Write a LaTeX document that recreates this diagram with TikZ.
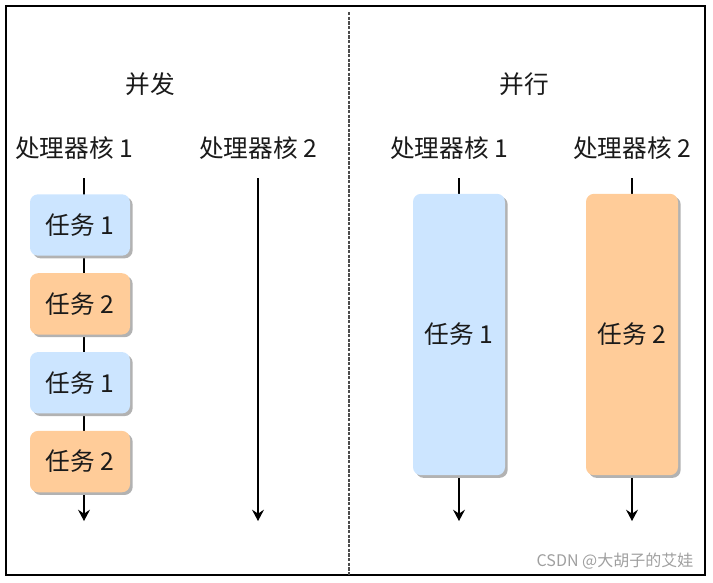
\documentclass[tikz,border=0pt]{standalone}
\usepackage{fontspec}
\setmainfont{Noto Sans CJK SC}
\usetikzlibrary{arrows.meta,positioning,shadows}
\definecolor{taskblue}{HTML}{CCE5FF}
\definecolor{taskorange}{HTML}{FFCC99}
\definecolor{inkgray}{HTML}{1A1A1A}

\begin{document}
\begin{tikzpicture}[x=0.75pt,y=-0.75pt,node distance=12.75pt,
    font=\fontsize{18.5}{21}\selectfont, text=inkgray,
    task/.style={rounded corners=6pt,inner sep=0pt,
      drop shadow={shadow xshift=2pt,shadow yshift=-2pt,fill=black!30,opacity=1}},
    shorttask/.style={task,minimum width=75pt,minimum height=46pt},
    longtask/.style={task,minimum width=69pt,minimum height=211pt},
    timeline/.style={-{Stealth[length=8.5pt,width=9pt,inset=3pt]},line width=0.8pt}]
  \useasboundingbox (0,0) rectangle (713,582);
  \draw[line width=1pt] (6,6) rectangle (705,575);
  \draw[gray!60!black,dash pattern=on 2.5pt off 1pt,line width=0.8pt] (349,12) -- (349,575);

  % titles
  \node (concur) at (150,84) {并发};
  \node (parallel) at (524,84) {并行};
  \node (lcore1) at (74,148) {处理器核 1};
  \node (lcore2) at (258,148) {处理器核 2};
  \node (rcore1) at (449,148) {处理器核 1};
  \node (rcore2) at (632,148) {处理器核 2};

  % time lines
  \coordinate (l1top) at (84,178);  \coordinate (l1bot) at (84,521);
  \coordinate (l2top) at (258,178); \coordinate (l2bot) at (258,521);
  \coordinate (r1top) at (459,178); \coordinate (r1bot) at (459,521);
  \coordinate (r2top) at (632,178); \coordinate (r2bot) at (632,521);
  \draw[timeline] (l1top) -- (l1bot);
  \draw[timeline] (l2top) -- (l2bot);
  \draw[timeline] (r1top) -- (r1bot);
  \draw[timeline] (r2top) -- (r2bot);

  % concurrent: one core switches
  \node[shorttask,fill=taskblue] (lt1) at (80,225) {任务 1};
  \node[shorttask,fill=taskorange,below=of lt1] (lt2) {任务 2};
  \node[shorttask,fill=taskblue,below=of lt2] (lt3) {任务 1};
  \node[shorttask,fill=taskorange,below=of lt3] (lt4) {任务 2};

  % parallel: one task per core
  \node[longtask,fill=taskblue] (rt1) at (459,334.5) {任务 1};
  \node[longtask,fill=taskorange] (rt2) at (632,334.5) {任务 2};

  \node[font=\fontsize{12}{14}\selectfont,text=gray!75,anchor=east] (mark) at (698,561) {CSDN @大胡子的艾娃};
\end{tikzpicture}
\end{document}
